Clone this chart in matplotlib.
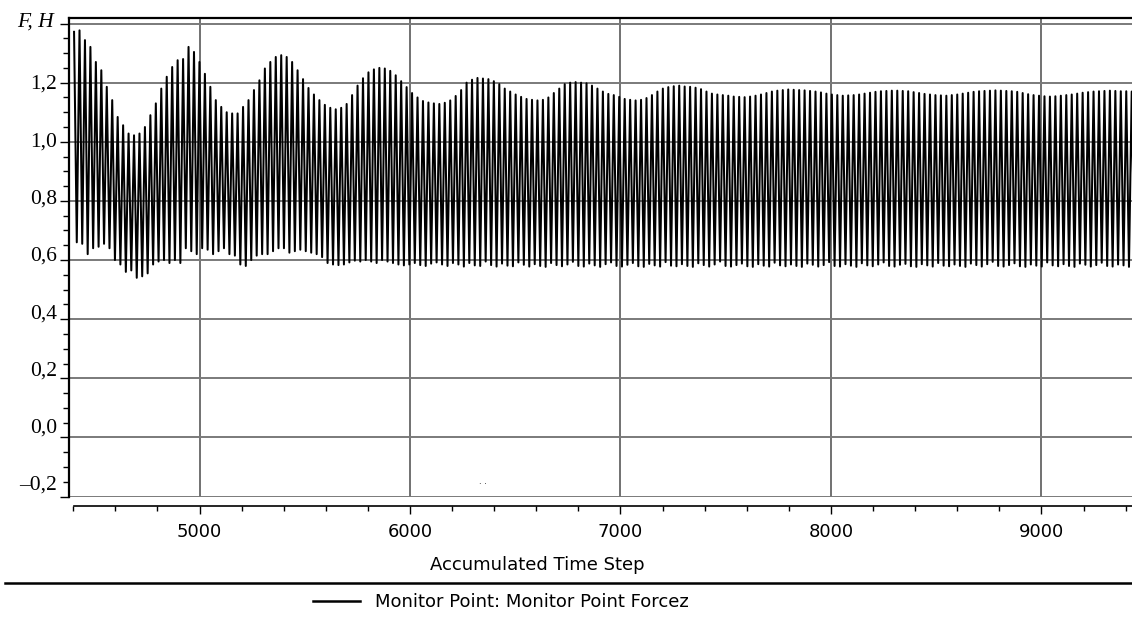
import numpy as np
import matplotlib

matplotlib.use("Agg")
from matplotlib import pyplot as plt
from matplotlib.lines import Line2D
from matplotlib.ticker import MultipleLocator, FuncFormatter, NullFormatter
from matplotlib.transforms import Bbox, TransformedBbox

# first peak and oscillation period, in time steps
T0 = 4404
PERIOD = 25.9

# peak value of each cycle
peaks = [
    1.372, 1.377, 1.344, 1.321, 1.270, 1.242, 1.186, 1.141, 1.084, 1.056,
    1.028, 1.022, 1.028, 1.050, 1.090, 1.130, 1.180, 1.220, 1.253, 1.276,
    1.280, 1.321, 1.304, 1.270, 1.230, 1.186, 1.141, 1.118, 1.100, 1.096,
    1.096, 1.118, 1.141, 1.175, 1.208, 1.248, 1.270, 1.287, 1.293, 1.287,
    1.270, 1.242, 1.212, 1.182, 1.160, 1.141, 1.125, 1.115, 1.110, 1.115,
    1.128, 1.158, 1.190, 1.215, 1.235, 1.245, 1.250, 1.248, 1.240, 1.225,
    1.205, 1.185, 1.165, 1.150, 1.138, 1.133, 1.130, 1.128, 1.132, 1.140,
    1.155, 1.175, 1.200, 1.210, 1.216, 1.214, 1.212, 1.205, 1.195, 1.180,
    1.170, 1.160, 1.152, 1.145, 1.142, 1.140, 1.142, 1.150, 1.165, 1.180,
    1.195, 1.200, 1.202, 1.200, 1.198, 1.190, 1.180, 1.170, 1.162, 1.158,
    1.152, 1.145, 1.142, 1.140, 1.142, 1.148, 1.158, 1.170, 1.180, 1.185,
    1.188, 1.190, 1.187, 1.186, 1.183, 1.178, 1.170, 1.163, 1.160, 1.158,
    1.156, 1.153, 1.152, 1.151, 1.153, 1.156, 1.160, 1.165, 1.170, 1.173,
    1.175, 1.177, 1.176, 1.175, 1.174, 1.172, 1.170, 1.167, 1.163, 1.160,
    1.158, 1.156, 1.157, 1.158, 1.160, 1.163, 1.166, 1.169, 1.171, 1.172,
    1.173, 1.173, 1.172, 1.171, 1.168, 1.165, 1.162, 1.160, 1.158, 1.157,
    1.156, 1.158, 1.160, 1.163, 1.166, 1.169, 1.171, 1.172, 1.173, 1.174,
    1.173, 1.172, 1.171, 1.169, 1.165, 1.161, 1.158, 1.156, 1.154, 1.153,
    1.154, 1.156, 1.158, 1.160, 1.163, 1.166, 1.168, 1.170, 1.171, 1.172,
    1.173, 1.172, 1.171, 1.171, 1.170,
]

# trough value following each peak
troughs = [
    0.660, 0.655, 0.620, 0.640, 0.645, 0.655, 0.640, 0.600, 0.585, 0.560,
    0.565, 0.540, 0.545, 0.555, 0.585, 0.595, 0.600, 0.590, 0.600, 0.590,
    0.640, 0.630, 0.620, 0.640, 0.635, 0.620, 0.630, 0.640, 0.620, 0.615,
    0.585, 0.580, 0.600, 0.615, 0.620, 0.620, 0.630, 0.640, 0.640, 0.625,
    0.630, 0.635, 0.630, 0.625, 0.620, 0.610, 0.590, 0.585, 0.583, 0.585,
    0.592, 0.598, 0.595, 0.600, 0.595, 0.590, 0.600, 0.595, 0.590, 0.585,
    0.582, 0.585, 0.590, 0.583, 0.580, 0.588, 0.592, 0.585, 0.580, 0.590,
    0.585, 0.578, 0.590, 0.582, 0.580, 0.595, 0.583, 0.578, 0.588, 0.581,
    0.579, 0.592, 0.584, 0.578, 0.586, 0.580, 0.577, 0.590, 0.583, 0.579,
    0.585, 0.594, 0.580, 0.578, 0.588, 0.582, 0.577, 0.586, 0.592, 0.580,
    0.578, 0.584, 0.590, 0.579, 0.577, 0.587, 0.582, 0.578, 0.593, 0.581,
    0.579, 0.586, 0.580, 0.577, 0.589, 0.583, 0.578, 0.585, 0.595, 0.580,
    0.578, 0.583, 0.588, 0.579, 0.577, 0.586, 0.581, 0.578, 0.591, 0.582,
    0.579, 0.585, 0.580, 0.577, 0.588, 0.584, 0.578, 0.583, 0.593, 0.580,
    0.578, 0.586, 0.581, 0.577, 0.589, 0.582, 0.579, 0.585, 0.592, 0.580,
    0.578, 0.584, 0.587, 0.579, 0.577, 0.586, 0.582, 0.578, 0.590, 0.581,
    0.579, 0.585, 0.580, 0.577, 0.588, 0.583, 0.578, 0.586, 0.594, 0.580,
    0.578, 0.583, 0.589, 0.579, 0.577, 0.585, 0.581, 0.578, 0.592, 0.582,
    0.579, 0.586, 0.580, 0.577, 0.588, 0.584, 0.578, 0.583, 0.591, 0.580,
    0.578, 0.585, 0.582, 0.577, 0.588,
]

x_ticks = [5000, 6000, 7000, 8000, 9000]
grid_levels = [-0.2, 0.0, 0.2, 0.4, 0.6, 0.8, 1.0, 1.2, 1.4]
label_levels = [-0.2, 0.0, 0.2, 0.4, 0.6, 0.8, 1.0, 1.2]
y_title = "F, Н"
x_title = "Accumulated Time Step"
series_name = "Monitor Point: Monitor Point Forcez"

W, H = 1132, 617
fig = plt.figure(figsize=(W / 100, H / 100), dpi=100)
ax = fig.add_axes([69 / W, (H - 497) / H, (W - 69) / W, 479 / H])

peak_t = T0 + PERIOD * np.arange(len(peaks))
trough_t = peak_t + PERIOD / 2
t = np.column_stack([peak_t, trough_t]).ravel()
v = np.column_stack([peaks, troughs]).ravel()
ax.plot(t, v, color="black", lw=1.45, zorder=3)

ax.set_xlim(4380, 9430)
ax.set_ylim(-0.2015, 1.4188)

# grid / tick scale of the chart
ax.set_yticks(grid_levels)
ax.yaxis.set_minor_locator(MultipleLocator(0.05))
ax.yaxis.set_major_formatter(NullFormatter())
ax.set_xticks(x_ticks)
ax.xaxis.set_minor_locator(MultipleLocator(200))
ax.grid(axis="y", color="#7a7a7a", lw=1.4, zorder=1)
ax.grid(axis="x", color="#4a4a4a", lw=1.1, zorder=1)
ax.tick_params(axis="y", which="major", direction="out", length=6.5, width=1.0)
ax.tick_params(axis="y", which="minor", direction="out", length=4.3, width=1.0)
ax.tick_params(axis="x", which="major", direction="out", length=5.8, width=1.0,
               pad=6.5, labelsize=13)
ax.tick_params(axis="x", which="minor", direction="out", length=3.6, width=1.0)

ax.spines["right"].set_visible(False)
ax.spines["top"].set_linewidth(1.6)
ax.spines["left"].set_linewidth(1.6)
ax.spines["bottom"].set_position(("outward", 6.5))
ax.spines["bottom"].set_bounds(4405, 9430)
ax.spines["bottom"].set_linewidth(1.2)

# hand-placed value labels on the left use a slightly different scale
ax_lab = ax.twinx()
ax_lab.set_ylim(-0.2489, 1.4235)
ax_lab.set_yticks(label_levels)
ax_lab.yaxis.set_ticks_position("left")
ax_lab.yaxis.set_label_position("left")
ax_lab.yaxis.set_major_formatter(
    FuncFormatter(lambda val, pos: f"{val:.1f}".replace(".", ",").replace("-", "\u2013"))
)
ax_lab.tick_params(axis="y", length=0, pad=8.5, labelsize=15.5)
for lab in ax_lab.get_yticklabels():
    lab.set_fontfamily("Liberation Serif")
for sp in ax_lab.spines.values():
    sp.set_visible(False)

ylab = fig.text(54 / W, 1 - 22 / H, y_title, ha="right", va="center",
                family="Liberation Serif", style="italic", fontsize=15.5)
ylab.set_clip_on(True)
ylab.set_clip_box(TransformedBbox(Bbox([[17 / W, 0], [1, 1]]), fig.transFigure))

fig.text(537 / W, 1 - 565 / H, x_title, ha="center", va="center", fontsize=13)
fig.text(483 / W, 1 - 481 / H, ". .", ha="center", va="center", fontsize=6)

fig.add_artist(Line2D([5 / W, 1], [1 - 583 / H, 1 - 583 / H],
                      transform=fig.transFigure, color="black", lw=1.8))

handle = Line2D([], [], color="black", lw=1.8)
fig.legend([handle], [series_name], loc="center left",
           bbox_to_anchor=(313 / W, 1 - 602 / H), frameon=False,
           borderpad=0, borderaxespad=0, handlelength=2.6, handletextpad=0.85,
           fontsize=13)

fig.savefig("out.png", dpi=100)
